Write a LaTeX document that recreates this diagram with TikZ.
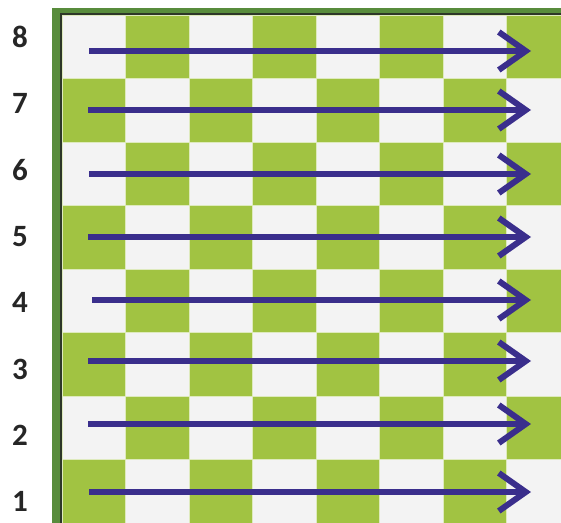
\documentclass[tikz,border=0pt]{standalone}
\usepackage{fontspec}
\setmainfont{Carlito}
\definecolor{boardgreen}{RGB}{161,195,66}
\definecolor{boardlight}{RGB}{243,243,243}
\definecolor{framegreen}{RGB}{88,140,60}
\definecolor{framedark}{RGB}{45,55,40}
\definecolor{rowblue}{RGB}{58,46,140}
\usetikzlibrary{arrows.meta}

\begin{document}
\begin{tikzpicture}[
      x=1pt,
      y=-1pt,
      rowlabel/.style={font=\fontsize{31}{31}\selectfont\bfseries,
        text=black!85, inner sep=0pt},
      square/.style={draw=boardgreen!35!white, line width=0.6pt},
      sweep/.style={-{Straight Barb[length=27pt,width=38pt,line width=6pt]},
        line width=5.5pt, rowblue}
    ]
    \useasboundingbox (0,0) rectangle (561,522);
    \clip (0,0) rectangle (561,522);

    % frame of the board
    \fill[framegreen] (52,8) rectangle (600,600);
    \fill[framedark] (60,13) rectangle (600,600);

    % squares
    \foreach \r in {1,...,8}
      \foreach \c in {1,...,8} {
        \pgfmathsetmacro{\xa}{62+(\c-1)*63.5}
        \pgfmathsetmacro{\ya}{15+(8-\r)*63.5}
        \pgfmathparse{mod(\r+\c,2)==0 ? "boardgreen" : "boardlight"}
        \edef\sqcol{\pgfmathresult}
        \filldraw[square, fill=\sqcol] (\xa,\ya) rectangle ++(63.5,63.5);
      }

    % row numbers
    \foreach \r in {1,...,8}
      \node[rowlabel] (l\r) at (20,{37+(8-\r)*66.4}) {\r};

    % one arrow per row
    \foreach \r/\y/\xs in {8/51/89,7/110/88,6/174/89,5/237/88,
                           4/300/92,3/361/88,2/424/88,1/492/89} {
      \coordinate (s\r) at (\xs,\y);
      \coordinate (e\r) at (531,\y);
      \draw[sweep] (s\r) -- (e\r);
    }
  \end{tikzpicture}
\end{document}
